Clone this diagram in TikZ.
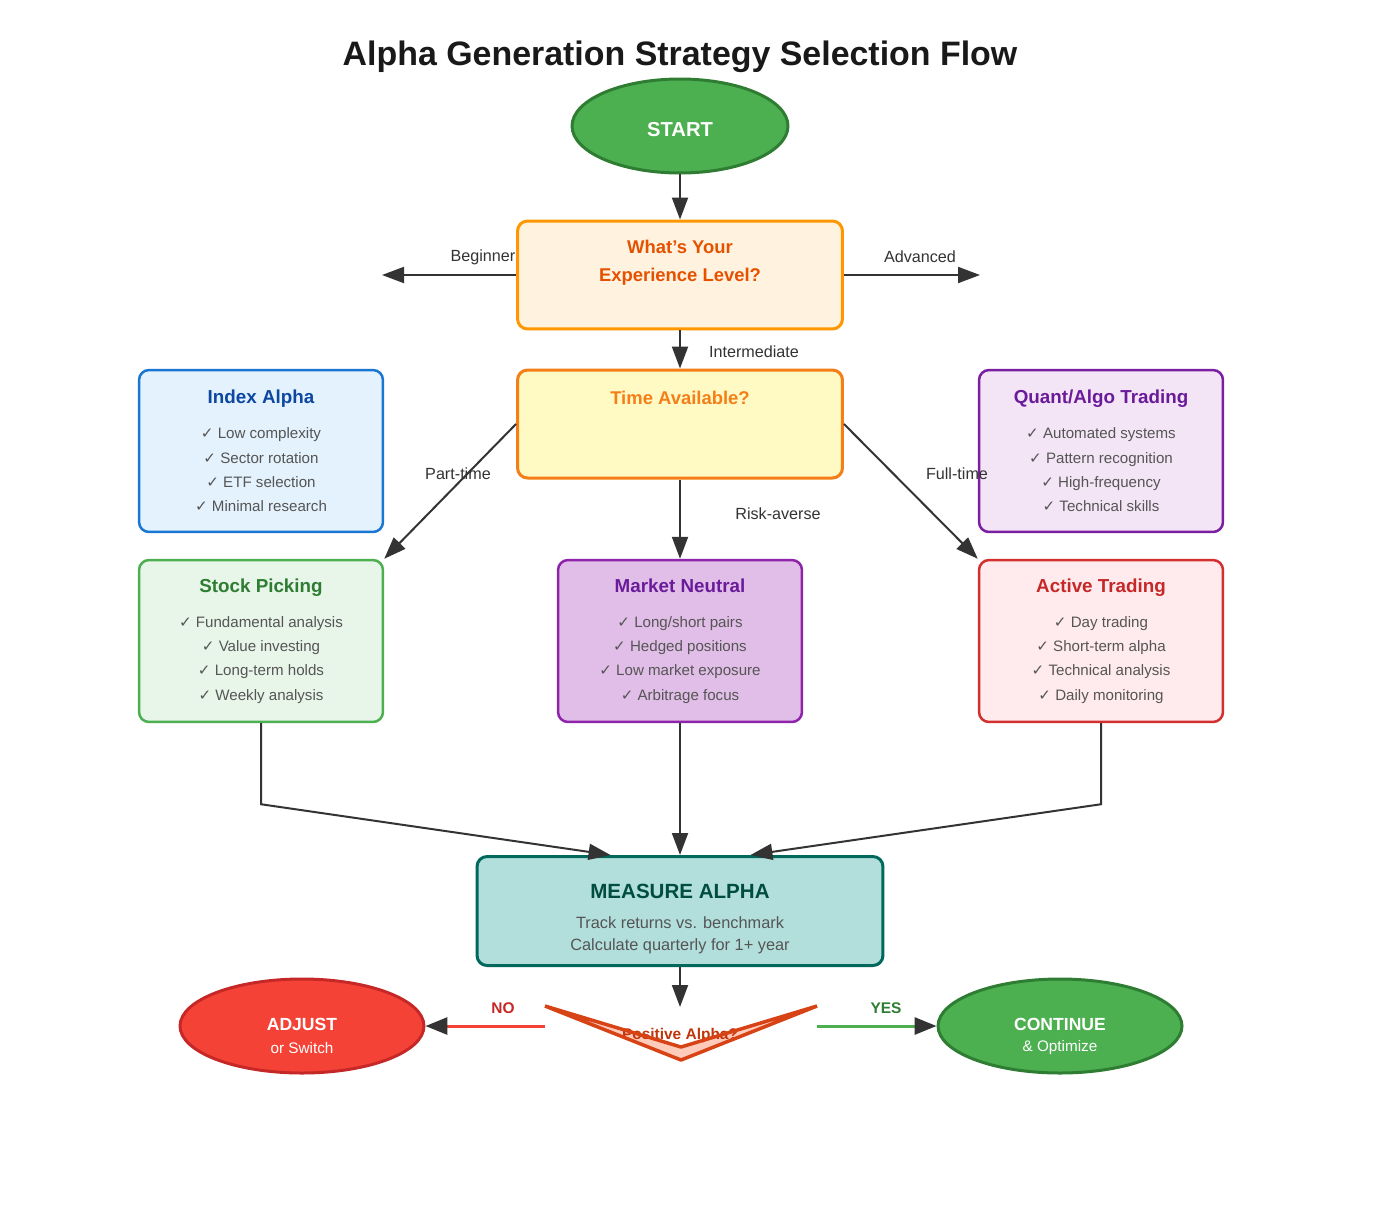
\documentclass[tikz,border=0pt]{standalone}
\usepackage{fontspec}
\setmainfont{Liberation Sans}
\newfontfamily\symfont{DejaVu Sans}
\usetikzlibrary{arrows.meta}
\usetikzlibrary{shapes.geometric}
\usetikzlibrary{calc}

\definecolor{darkline}{HTML}{333333}
\definecolor{itemgray}{HTML}{555555}
\definecolor{greenfill}{HTML}{4CAF50}
\definecolor{greenline}{HTML}{2E7D32}
\definecolor{expfill}{HTML}{FFF3E0}
\definecolor{expline}{HTML}{FF9800}
\definecolor{exptext}{HTML}{E65100}
\definecolor{timefill}{HTML}{FFF9C4}
\definecolor{timeline}{HTML}{F57F17}
\definecolor{indexfill}{HTML}{E3F2FD}
\definecolor{indexline}{HTML}{1976D2}
\definecolor{indextext}{HTML}{0D47A1}
\definecolor{quantfill}{HTML}{F3E5F5}
\definecolor{quantline}{HTML}{7B1FA2}
\definecolor{purpletext}{HTML}{6A1B9A}
\definecolor{stockfill}{HTML}{E8F5E9}
\definecolor{marketfill}{HTML}{E1BEE7}
\definecolor{marketline}{HTML}{8E24AA}
\definecolor{activefill}{HTML}{FFEBEE}
\definecolor{activeline}{HTML}{D32F2F}
\definecolor{redtext}{HTML}{C62828}
\definecolor{measurefill}{HTML}{B2DFDB}
\definecolor{measureline}{HTML}{00695C}
\definecolor{measuretext}{HTML}{004D40}
\definecolor{chevline}{HTML}{D84315}
\definecolor{chevfill}{HTML}{FFCCBC}
\definecolor{chevtext}{HTML}{BF360C}
\definecolor{redfill}{HTML}{F44336}

\newcommand{\chk}{{\symfont\char"2713}\ }
\newcommand{\boxtitle}[2]{{\fontsize{10.7}{12}\selectfont\bfseries\color{#1}#2}}

\begin{document}
\begin{tikzpicture}[x=0.02cm,y=-0.02cm,
    arr/.style={line width=0.04cm,draw=darkline,-{Triangle[length=0.44cm,width=0.32cm]}},
    qbox/.style={rounded corners=0.2cm,line width=0.06cm,minimum width=6.5cm,minimum height=2.16cm,inner sep=0pt},
    qtext/.style={font=\fontsize{10.5}{15.9}\selectfont\bfseries,align=center},
    stratbox/.style={rounded corners=0.2cm,line width=0.05cm,minimum width=4.88cm,minimum height=3.24cm,
      inner sep=0pt,align=center,text=itemgray,font=\fontsize{8.6}{13.8}\selectfont},
    oval/.style={ellipse,line width=0.06cm,minimum width=4.88cm,minimum height=1.88cm,inner sep=0pt},
    lbl/.style={font=\fontsize{9.2}{11}\selectfont,text=darkline},
    endtext/.style={text=white,font=\fontsize{10}{12}\selectfont\bfseries}]

    \useasboundingbox[fill=white] (0,0) rectangle (1389,1211);

    % title and start
    \node[font=\fontsize{19.3}{22}\selectfont\bfseries,text=black!90] (title) at (680,57) {Alpha Generation Strategy Selection Flow};
    \node[oval,fill=greenfill,draw=greenline,minimum width=4.32cm] (start) at (680,126) {};
    \node[text=white,font=\fontsize{11.5}{13}\selectfont\bfseries] (startt) at (680,130) {START};

    % questions
    \node[qbox,fill=expfill,draw=expline] (exp) at (680,275) {};
    \node[qtext,text=exptext] (expq) at (680,263) {What's Your\\Experience Level?};
    \node[qbox,fill=timefill,draw=timeline] (time) at (680,424) {};
    \node[qtext,text=timeline] (timeq) at (680,398) {Time Available?};

    % strategies
    \node[stratbox,fill=indexfill,draw=indexline] (index) at (261,451) {\boxtitle{indextext}{Index Alpha}\\[6pt]
      \chk Low complexity\\ \chk Sector rotation\\ \chk ETF selection\\ \chk Minimal research};
    \node[stratbox,fill=quantfill,draw=quantline] (quant) at (1101,451) {\boxtitle{purpletext}{Quant/Algo Trading}\\[6pt]
      \chk Automated systems\\ \chk Pattern recognition\\ \chk High-frequency\\ \chk Technical skills};
    \node[stratbox,fill=stockfill,draw=greenfill] (stock) at (261,641) {\boxtitle{greenline}{Stock Picking}\\[6pt]
      \chk Fundamental analysis\\ \chk Value investing\\ \chk Long-term holds\\ \chk Weekly analysis};
    \node[stratbox,fill=marketfill,draw=marketline] (market) at (680,641) {\boxtitle{purpletext}{Market Neutral}\\[6pt]
      \chk Long/short pairs\\ \chk Hedged positions\\ \chk Low market exposure\\ \chk Arbitrage focus};
    \node[stratbox,fill=activefill,draw=activeline] (active) at (1101,641) {\boxtitle{redtext}{Active Trading}\\[6pt]
      \chk Day trading\\ \chk Short-term alpha\\ \chk Technical analysis\\ \chk Daily monitoring};

    % measure
    \node[rounded corners=0.2cm,line width=0.06cm,fill=measurefill,draw=measureline,minimum width=8.12cm,minimum height=2.18cm,
      inner sep=0pt] (measure) at (680,911) {};
    \node[align=center,text=itemgray,font=\fontsize{9.3}{12.5}\selectfont] (measuret) at (680,919)
      {{\fontsize{11.7}{13}\selectfont\bfseries\color{measuretext}MEASURE ALPHA}\\[5pt] Track returns vs. benchmark\\ Calculate quarterly for 1+ year};

    % decision
    \fill[chevfill] (545,1006) -- (681,1060) -- (817,1006) -- (681,1047) -- cycle;
    \node[text=chevtext,font=\fontsize{8.8}{10}\selectfont\bfseries] (posalpha) at (680,1035) {Positive Alpha?};
    \draw[line width=0.07cm,draw=chevline,line join=bevel] (545,1006) -- (681,1060) -- (817,1006) -- (681,1047) -- cycle;
    \coordinate (chevtop) at (680,1007);
    \coordinate (nostart) at (545,1026);
    \coordinate (yesstart) at (817,1026);

    % outcomes
    \node[oval,fill=redfill,draw=redtext] (adjust) at (302,1026) {};
    \node[endtext] (adjustt) at (302,1024) {ADJUST};
    \node[endtext,font=\fontsize{8.7}{10}\selectfont] (adjusts) at (302,1048) {or Switch};
    \node[oval,fill=greenfill,draw=greenline] (cont) at (1060,1026) {};
    \node[endtext] (contt) at (1060,1024) {CONTINUE};
    \node[endtext,font=\fontsize{8.7}{10}\selectfont] (conts) at (1060,1048) {\& Optimize};

    % arrows
    \coordinate (begend) at (382,275);
    \coordinate (advend) at (980,275);
    \draw[arr] (start) -- (exp);
    \draw[arr] (exp.west) -- (begend);
    \draw[arr] (exp.east) -- (advend);
    \draw[arr] (exp) -- (time);
    \draw[arr] (time.west) -- (stock.north east);
    \draw[arr] (time) -- (market);
    \draw[arr] (time.east) -- (active.north west);
    \draw[arr] (stock.south) -- ++(0,81) -- ($(measure.north west)+(135,0)$);
    \draw[arr] (market) -- (measure);
    \draw[arr] (active.south) -- ++(0,81) -- ($(measure.north east)+(-134,0)$);
    \draw[arr] (measure) -- (chevtop);
    \draw[line width=0.06cm,draw=redfill,-{Triangle[length=0.44cm,width=0.34cm,color=darkline]}] (nostart) -- (adjust.east);
    \draw[line width=0.06cm,draw=greenfill,-{Triangle[length=0.44cm,width=0.34cm,color=darkline]}] (yesstart) -- (cont.west);

    % labels
    \node[lbl] (lbeg) at (483,257) {Beginner};
    \node[lbl] (ladv) at (920,257) {Advanced};
    \node[lbl] (lint) at (754,352) {Intermediate};
    \node[lbl] (lpart) at (458,474) {Part-time};
    \node[lbl] (lfull) at (957,474) {Full-time};
    \node[lbl] (lrisk) at (778,514) {Risk-averse};
    \node[text=redtext,font=\fontsize{8.8}{10}\selectfont\bfseries] (lno) at (503,1008) {NO};
    \node[text=greenline,font=\fontsize{8.8}{10}\selectfont\bfseries] (lyes) at (886,1008) {YES};
  \end{tikzpicture}
\end{document}
